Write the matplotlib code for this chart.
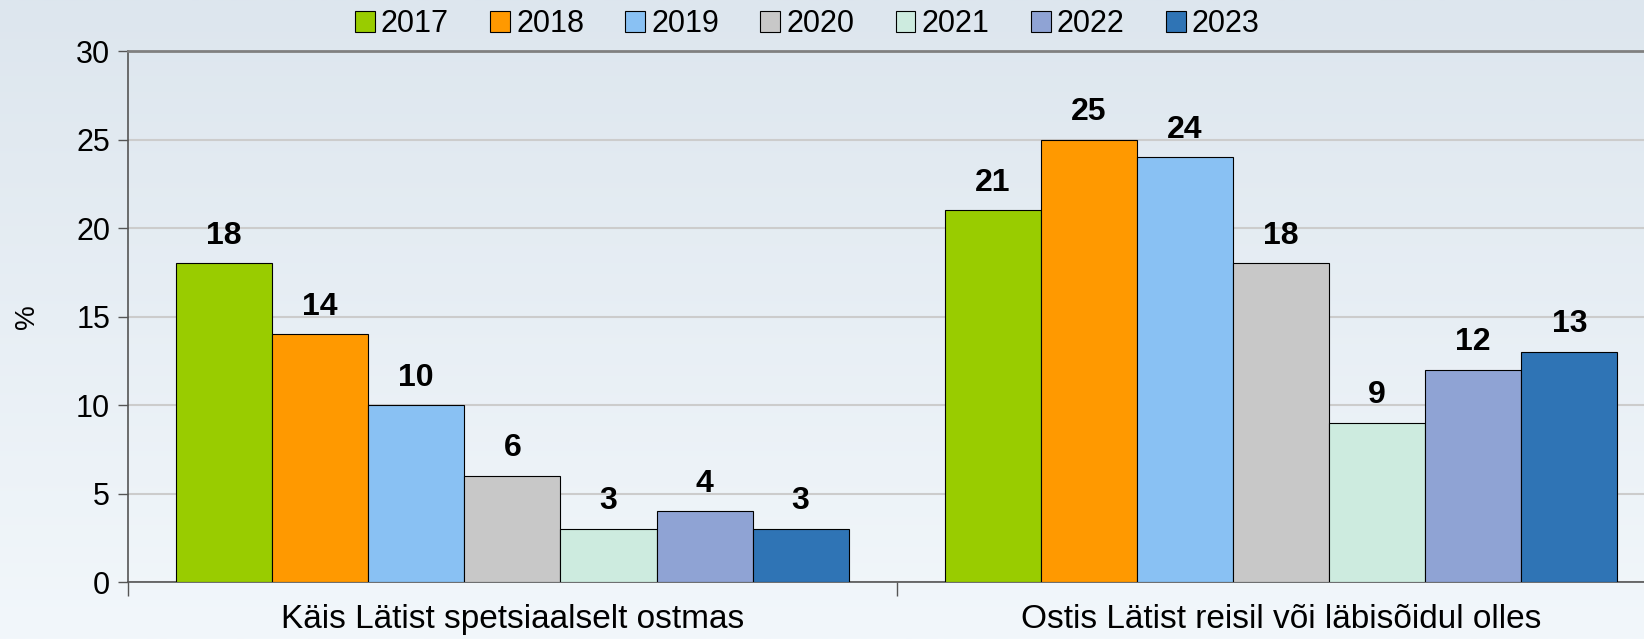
import numpy as np
import matplotlib
matplotlib.use("Agg")
import matplotlib.pyplot as plt
from matplotlib.patches import Patch

# andmed
categories = ["Käis Lätist spetsiaalselt ostmas", "Ostis Lätist reisil või läbisõidul olles"]
years = ["2017", "2018", "2019", "2020", "2021", "2022", "2023"]
values = {
    "2017": [18, 21],
    "2018": [14, 25],
    "2019": [10, 24],
    "2020": [6, 18],
    "2021": [3, 9],
    "2022": [4, 12],
    "2023": [3, 13],
}
colors = ["#99cc00", "#ff9900", "#89c1f3", "#c8c8c8", "#cdebdf", "#8fa3d4", "#2f74b5"]
yticks = [0, 5, 10, 15, 20, 25, 30]

plt.rcParams["font.family"] = ["Liberation Sans", "DejaVu Sans"]

fig = plt.figure(figsize=(16.44, 6.39), dpi=100)

# taust: vertikaalne gradient
bg = fig.add_axes([0, 0, 1, 1], zorder=-10)
grad = np.linspace(0, 1, 256).reshape(-1, 1)
cmap = matplotlib.colors.LinearSegmentedColormap.from_list("bg", ["#f2f7fb", "#dde6ee"])
bg.imshow(grad, aspect="auto", cmap=cmap, origin="lower", extent=[0, 1, 0, 1])
bg.axis("off")

ax = fig.add_axes([0.0779, 0.0892, 1.013 - 0.0779, 0.920 - 0.0892])
ax.patch.set_alpha(0)

w = 0.125
x = np.arange(len(categories))
for i, (yr, c) in enumerate(zip(years, colors)):
    pos = x + (i - 3) * w
    bars = ax.bar(pos, values[yr], width=w, color=c, edgecolor="black", linewidth=0.8, zorder=3)
    for b, v in zip(bars, values[yr]):
        ax.annotate(str(v), (b.get_x() + b.get_width() / 2, v), xytext=(0, 9),
                    textcoords="offset points", ha="center", va="bottom",
                    fontsize=23, fontweight="bold", zorder=4)

ax.set_xlim(-0.5, 1.5)
ax.set_ylim(0, 30)
ax.set_yticks(yticks)
ax.tick_params(axis="y", labelsize=22, direction="out", length=7, width=1, color="#555555", pad=6)
ax.yaxis.grid(True, color="#cccccc", linewidth=1.5, zorder=0)
ax.set_axisbelow(True)

ax.set_xticks([-0.5, 0.5, 1.5])
ax.set_xticklabels([])
ax.set_xticks(x, minor=True)
ax.set_xticklabels(categories, minor=True, fontsize=24)
ax.tick_params(axis="x", which="major", direction="out", length=10, width=1, color="#555555")
ax.tick_params(axis="x", which="minor", length=0, pad=16)

for s in ["left", "bottom"]:
    ax.spines[s].set_color("#555555")
    ax.spines[s].set_linewidth(1.2)
ax.spines["top"].set_color("#808080")
ax.spines["top"].set_linewidth(2)
ax.spines["right"].set_visible(False)

ax.set_ylabel("%", fontsize=20, labelpad=26)

handles = [Patch(facecolor=c, edgecolor="black", linewidth=0.8) for c in colors]
fig.legend(handles, years, loc="center", bbox_to_anchor=(0.491, 0.962), ncol=7,
           frameon=False, fontsize=22, handlelength=0.65, handleheight=0.65,
           handletextpad=0.2, columnspacing=1.35)

fig.savefig("out.png", dpi=100)
